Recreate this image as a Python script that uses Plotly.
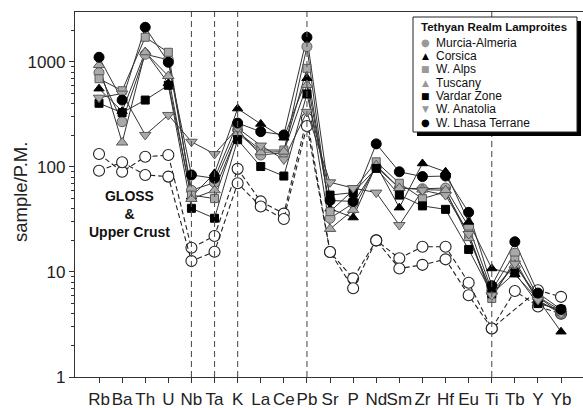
import plotly.graph_objects as go

elements = ["Rb", "Ba", "Th", "U", "Nb", "Ta", "K", "La", "Ce", "Pb", "Sr", "P",
            "Nd", "Sm", "Zr", "Hf", "Eu", "Ti", "Tb", "Y", "Yb"]

murcia = [790, 270, 1184, 1050, 60, 71, 225, 130, 137, 1400, 32.5, 45, 100, 63, 62, 63, 27, 6.7, 15.1, 5.8, 4.0]
corsica = [557, 340, 1250, 626, 52, 87, 360, 257, 190, 700, 40, 33, 105, 41, 108, 90, 30, 10.8, 9.5, 5.5, 2.7]
walps = [693, 533, 1718, 1237, 54, 50, 215, 145, 145, 870, 37.6, 60, 112, 70, 50, 58, 23, 5.6, 13, 5.2, 4.2]
tuscany = [936, 171, 1237, 735, 49.6, 60, 210, 138, 140, 604, 25.7, 39, 104, 63, 61, 60, 21, 6.5, 11.7, 5.8, 4.3]
vardar = [404, 329, 434, 600, 40.4, 32.5, 182, 101, 82, 496, 54, 57, 97, 54, 42.6, 39.5, 16.4, 6.2, 9.8, 5.0, 4.4]
anatolia = [457, 500, 202, 313, 174, 133, 235, 160, 118, 335, 71.5, 63, 57, 28, 60, 54, 23, 6.0, 12, 5.4, 4.0]
lhasa = [1109, 434, 2140, 993, 84, 78, 262, 217, 202, 1718, 48, 47, 166, 90, 81, 82, 37, 7.4, 19.4, 6.3, 4.4]
gloss = [133, 90, 125, 130, 17, 22, 96, 47, 36, 290, 15.5, 8.7, 20, 13.5, 17.4, 17.4, 7.9, 2.9, 6.6, 4.7, 4.0]
upper_crust = [92, 111, 84, 81, 12.7, 15.6, 70, 42, 32, 246, 15.5, 7.0, 20, 10.8, 11.7, 13.2, 6.0, 2.9, None, 6.7, 5.8]

dashed_elements = ["Nb", "Ta", "K", "Pb", "Ti"]
y_tick_values = [1, 10, 100, 1000]

GRAY = "#a9a9a9"
GRAY_EDGE = "#5a5a5a"

series = [
    ("Murcia-Almeria", murcia, "circle", GRAY, GRAY_EDGE, 10),
    ("Corsica", corsica, "triangle-up", "black", "black", 9),
    ("W. Alps", walps, "square", GRAY, GRAY_EDGE, 8),
    ("Tuscany", tuscany, "triangle-up", GRAY, GRAY_EDGE, 10),
    ("Vardar Zone", vardar, "square", "black", "black", 8),
    ("W. Anatolia", anatolia, "triangle-down", GRAY, GRAY_EDGE, 10),
    ("W. Lhasa Terrane", lhasa, "circle", "black", "black", 10),
]

fig = go.Figure()

for name, vals in [("GLOSS", gloss), ("Upper Crust", upper_crust)]:
    fig.add_trace(go.Scatter(
        x=elements, y=vals, name=name, mode="lines+markers", connectgaps=True,
        line=dict(color="#222", width=1.1, dash="5px,3px"),
        marker=dict(symbol="circle", size=11, color="white",
                    line=dict(color="#222", width=1.1)),
        showlegend=False))

for name, vals, sym, fill, edge, size in series:
    fig.add_trace(go.Scatter(
        x=elements, y=vals, name=name, mode="lines",
        line=dict(color="#333", width=1), showlegend=False))
for name, vals, sym, fill, edge, size in series:
    fig.add_trace(go.Scatter(
        x=elements, y=vals, name=name, mode="markers",
        marker=dict(symbol=sym, size=size, color=fill, line=dict(color=edge, width=1)),
        showlegend=False))

# layout geometry (pixels)
W, H = 583, 408
L, R, T, B = 75, 0, 12, 31
pw, ph = W - L - R, H - T - B


def px(xp):
    return (xp - L) / pw


def py(yp):
    return (H - B - yp) / ph


shapes = []
for el in dashed_elements:
    shapes.append(dict(type="line", xref="x", yref="paper",
                       x0=elements.index(el), x1=elements.index(el), y0=0, y1=1,
                       line=dict(color="#555", width=1.1, dash="6px,4px"), layer="above"))
# legend shadow and box
shapes.append(dict(type="rect", xref="paper", yref="paper",
                   x0=px(417), x1=px(581), y0=py(136), y1=py(21),
                   fillcolor="black", line=dict(width=0), layer="above"))
shapes.append(dict(type="rect", xref="paper", yref="paper",
                   x0=px(413), x1=px(577), y0=py(132), y1=py(17),
                   fillcolor="white", line=dict(color="#222", width=1), layer="above"))

annotations = [
    dict(xref="paper", yref="paper", x=px(20), y=py(192), xanchor="center", yanchor="middle",
         text="sample/P.M.", textangle=-90, showarrow=False,
         font=dict(family="Liberation Sans, Arial", size=18.5, color="#222")),
    dict(xref="paper", yref="paper", x=px(419), y=py(27.5), xanchor="left", yanchor="middle",
         text="<b>Tethyan Realm Lamproites</b>", showarrow=False,
         font=dict(family="Liberation Sans, Arial", size=11.5, color="#111")),
    dict(xref="x", yref="paper", x=1.3, y=py(214), xanchor="center", yanchor="middle",
         text="<b>GLOSS<br>&amp;<br>Upper Crust</b>", showarrow=False,
         font=dict(family="Liberation Sans, Arial", size=14, color="#111")),
]
glyphs = {"circle": "●", "triangle-up": "▲", "square": "■", "triangle-down": "▼"}
for i, (name, vals, sym, fill, edge, size) in enumerate(series):
    yc = 42.7 + i * 13.33
    gcol = "#999" if fill != "black" else "black"
    annotations.append(dict(xref="paper", yref="paper", x=px(425.5), y=py(yc),
                            xanchor="center", yanchor="middle", text=glyphs[sym],
                            showarrow=False,
                            font=dict(family="DejaVu Sans", size=9 if sym != "circle" else 10, color=gcol)))
    annotations.append(dict(xref="paper", yref="paper", x=px(434), y=py(yc),
                            xanchor="left", yanchor="middle", text=name, showarrow=False,
                            font=dict(family="Liberation Sans, Arial", size=12, color="#111")))

fig.update_layout(
    width=W, height=H, margin=dict(l=L, r=R, t=T, b=B, pad=0, autoexpand=False),
    paper_bgcolor="white", plot_bgcolor="white",
    font=dict(family="Liberation Sans, Arial", color="#222"),
    shapes=shapes, annotations=annotations, showlegend=False,
    xaxis=dict(type="category", range=[-1.04, 20.95], showgrid=False, zeroline=False,
               showline=True, linecolor="#333", linewidth=1.3, mirror=True,
               ticks="outside", ticklen=5, tickcolor="#333", tickwidth=1.2,
               tickangle=0, automargin=False, ticklabelstandoff=1,
               tickfont=dict(size=17, color="#222")),
    yaxis=dict(type="log", range=[0, 3.476], showgrid=False, zeroline=False,
               showline=True, linecolor="#333", linewidth=1.3, automargin=False,
               tickvals=y_tick_values, ticktext=[str(v) for v in y_tick_values],
               ticks="outside", ticklen=5, tickcolor="#333", tickwidth=1.2,
               minor=dict(ticks="outside", ticklen=3, tickcolor="#333", dtick="D1"),
               tickfont=dict(size=17, color="#222")),
)

fig.write_html("out.html", config={"displayModeBar": False},
               post_script="document.body.style.margin='0';document.body.style.padding='0';")
